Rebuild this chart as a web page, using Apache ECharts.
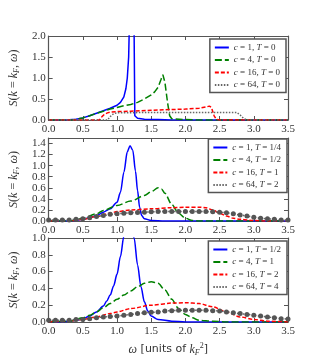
<!DOCTYPE html>
<html>
<head>
<meta charset="utf-8">
<script src="https://cdn.jsdelivr.net/npm/echarts@6/dist/echarts.min.js"></script>
<style>
html, body { margin: 0; padding: 0; background: #fff; }
#chart { width: 320px; height: 360px; }
</style>
</head>
<body>
<div id="chart"></div>
<script>
// x ticks
var xTicks = [0, 0.5, 1.0, 1.5, 2.0, 2.5, 3.0, 3.5];

// panel 1, T = 0
var w_c1_T0 = [0, 0.2, 0.3, 0.4, 0.5, 0.6, 0.7, 0.8, 0.9, 1.0, 1.05, 1.1, 1.13, 1.15, 1.17, 1.19, 1.245, 1.26, 1.27, 1.3, 1.4, 1.6, 1.8, 3.5];
var s_c1_T0 = [0, 0, 0.005, 0.02, 0.05, 0.1, 0.16, 0.22, 0.28, 0.35, 0.42, 0.55, 0.75, 1.0, 1.5, 3, 3, 0.1, 0.06, 0.04, 0.02, 0.01, 0, 0];
var w_c4_T0 = [0, 0.35, 0.5, 0.6, 0.7, 0.8, 0.9, 1.0, 1.1, 1.2, 1.3, 1.4, 1.5, 1.55, 1.6, 1.64, 1.67, 1.7, 1.74, 1.77, 1.8, 2.0, 2.2, 3.5];
var s_c4_T0 = [0, 0, 0.05, 0.1, 0.16, 0.21, 0.26, 0.3, 0.34, 0.37, 0.42, 0.5, 0.6, 0.67, 0.78, 0.95, 1.08, 0.9, 0.4, 0.1, 0.03, 0.01, 0, 0];
var w_c16_T0 = [0, 0.74, 0.78, 0.82, 0.86, 0.9, 1.0, 1.2, 1.5, 1.8, 2.0, 2.2, 2.3, 2.35, 2.38, 2.42, 2.45, 2.5, 3.5];
var s_c16_T0 = [0, 0, 0.08, 0.14, 0.17, 0.19, 0.2, 0.21, 0.23, 0.25, 0.26, 0.28, 0.31, 0.33, 0.3, 0.1, 0.02, 0, 0];
var w_c64_T0 = [0, 0.86, 0.9, 0.95, 1.0, 1.5, 2.0, 2.5, 2.75, 2.8, 2.85, 2.9, 3.5];
var s_c64_T0 = [0, 0, 0.08, 0.15, 0.17, 0.18, 0.18, 0.18, 0.18, 0.12, 0.04, 0, 0];

// panel 2
var w_c1_T14 = [0, 0.3, 0.4, 0.5, 0.6, 0.7, 0.8, 0.9, 1.0, 1.05, 1.1, 1.15, 1.19, 1.23, 1.27, 1.3, 1.33, 1.36, 1.4, 1.5, 1.7, 3.5];
var s_c1_T14 = [0, 0, 0.01, 0.03, 0.06, 0.1, 0.16, 0.22, 0.34, 0.52, 0.88, 1.25, 1.36, 1.28, 0.9, 0.55, 0.25, 0.1, 0.04, 0.01, 0, 0];
var w_c4_T12 = [0, 0.3, 0.5, 0.7, 0.8, 1.0, 1.2, 1.4, 1.5, 1.6, 1.65, 1.7, 1.8, 1.9, 2.0, 2.1, 2.2, 3.5];
var s_c4_T12 = [0, 0, 0.05, 0.13, 0.19, 0.28, 0.36, 0.46, 0.53, 0.6, 0.58, 0.5, 0.3, 0.14, 0.05, 0.01, 0, 0];
var w_c16_T1 = [0, 0.3, 0.5, 0.7, 0.9, 1.0, 1.2, 1.5, 1.8, 2.0, 2.2, 2.3, 2.4, 2.5, 2.6, 2.7, 2.8, 3.0, 3.2, 3.5];
var s_c16_T1 = [0, 0, 0.03, 0.08, 0.14, 0.17, 0.2, 0.22, 0.24, 0.25, 0.25, 0.24, 0.2, 0.14, 0.09, 0.05, 0.03, 0.01, 0, 0];

// grey curves are sampled every 0.1
var w_grid = [0, 0.1, 0.2, 0.3, 0.4, 0.5, 0.6, 0.7, 0.8, 0.9, 1.0, 1.1, 1.2, 1.3, 1.4, 1.5, 1.6, 1.7, 1.8, 1.9, 2.0, 2.1, 2.2, 2.3, 2.4, 2.5, 2.6, 2.7, 2.8, 2.9, 3.0, 3.1, 3.2, 3.3, 3.4, 3.5];
var s_c64_T2 = [0.02, 0.02, 0.02, 0.02, 0.03, 0.04, 0.06, 0.08, 0.1, 0.12, 0.13, 0.14, 0.15, 0.155, 0.16, 0.165, 0.17, 0.17, 0.17, 0.17, 0.17, 0.17, 0.17, 0.17, 0.165, 0.16, 0.15, 0.13, 0.11, 0.09, 0.07, 0.05, 0.04, 0.03, 0.02, 0.02];

// panel 3
var w_c1_T12 = [0, 0.2, 0.3, 0.4, 0.5, 0.6, 0.7, 0.8, 0.85, 0.9, 0.95, 1.0, 1.05, 1.1, 1.15, 1.2, 1.25, 1.3, 1.35, 1.4, 1.45, 1.5, 1.6, 1.8, 2.0, 3.5];
var s_c1_T12 = [0, 0, 0.01, 0.02, 0.04, 0.07, 0.12, 0.19, 0.25, 0.32, 0.43, 0.57, 0.78, 1.02, 1.2, 1.2, 1.0, 0.68, 0.42, 0.24, 0.13, 0.07, 0.03, 0.01, 0, 0];
var w_c4_T1 = [0, 0.3, 0.5, 0.6, 0.7, 0.8, 0.9, 1.0, 1.1, 1.2, 1.3, 1.4, 1.5, 1.6, 1.7, 1.8, 1.9, 2.0, 2.1, 2.2, 2.4, 2.6, 3.5];
var s_c4_T1 = [0, 0.01, 0.05, 0.08, 0.12, 0.17, 0.22, 0.27, 0.32, 0.37, 0.42, 0.46, 0.48, 0.46, 0.38, 0.27, 0.16, 0.09, 0.05, 0.02, 0.01, 0, 0];
var w_c16_T2 = [0, 0.3, 0.5, 0.7, 0.9, 1.0, 1.2, 1.5, 1.8, 2.0, 2.2, 2.4, 2.6, 2.8, 3.0, 3.2, 3.5];
var s_c16_T2 = [0, 0.01, 0.03, 0.06, 0.1, 0.12, 0.16, 0.2, 0.225, 0.23, 0.22, 0.18, 0.12, 0.06, 0.03, 0.01, 0];
var s_c64_T4 = [0.02, 0.02, 0.02, 0.02, 0.03, 0.03, 0.04, 0.05, 0.06, 0.065, 0.07, 0.08, 0.09, 0.1, 0.11, 0.115, 0.12, 0.13, 0.135, 0.14, 0.14, 0.14, 0.14, 0.14, 0.135, 0.13, 0.12, 0.11, 0.1, 0.09, 0.08, 0.07, 0.06, 0.05, 0.04, 0.035];

// legend labels [c, T]
var labels1 = [['1', '0'], ['4', '0'], ['16', '0'], ['64', '0']];
var labels2 = [['1', '1/4'], ['4', '1/2'], ['16', '1'], ['64', '2']];
var labels3 = [['1', '1/2'], ['4', '1'], ['16', '2'], ['64', '4']];

var yMax = [2.0, 1.5, 1.0];
var yInterval = [0.5, 0.2, 0.2];

function pairs(w, s) {
  var out = [];
  for (var i = 0; i < w.length; i++) out.push([w[i], s[i]]);
  return out;
}
function nm(l) { return 'c = ' + l[0] + ', T = ' + l[1]; }

var frameColor = '#555';
var tickFont = { fontFamily: 'Liberation Serif', fontSize: 11, color: '#333' };
var mathRich = {
  i: { fontFamily: 'Liberation Serif', fontStyle: 'italic', fontSize: 12, color: '#333' },
  r: { fontFamily: 'Liberation Serif', fontSize: 12, color: '#333' },
  s: { fontFamily: 'DejaVu Sans', fontSize: 11, color: '#333' },
  sub: { fontFamily: 'Liberation Serif', fontStyle: 'italic', fontSize: 8, color: '#333', padding: [6, 0, 0, 0] },
  sup: { fontFamily: 'Liberation Serif', fontSize: 8, color: '#333', padding: [0, 0, 7, 0] }
};
var legRich = {
  i: { fontFamily: 'Liberation Serif', fontStyle: 'italic', fontSize: 9, color: '#333' },
  r: { fontFamily: 'Liberation Serif', fontSize: 9, color: '#333' }
};

var tops = [36, 138, 238];
var heights = [84, 83, 84];
var grids = [], xAxes = [], yAxes = [], legends = [];
for (var g = 0; g < 3; g++) {
  grids.push({ left: 40, top: tops[g], width: 248, height: heights[g], show: false });
}
for (var g = 0; g < 3; g++) {
  xAxes.push({
    type: 'value', gridIndex: g, min: 0, max: 3.5, interval: 0.5, position: 'bottom',
    axisLine: { show: true, onZero: false, lineStyle: { color: frameColor, width: 1.2 } },
    axisTick: { show: true, inside: true, length: 4, lineStyle: { color: frameColor } },
    splitLine: { show: false },
    axisLabel: Object.assign({ margin: 4, formatter: function (v) { return v.toFixed(1); } }, tickFont),
    name: g === 2 ? '{i|ω} [units of {i|k}{sub|F}{sup|2}]' : '',
    nameLocation: 'middle', nameGap: 20,
    nameTextStyle: { fontFamily: 'DejaVu Sans', fontSize: 11, color: '#333', rich: mathRich }
  });
}
for (var g = 0; g < 3; g++) {
  xAxes.push({
    type: 'value', gridIndex: g, min: 0, max: 3.5, interval: 0.5, position: 'top',
    axisLine: { show: true, onZero: false, lineStyle: { color: frameColor, width: 1.2 } },
    axisTick: { show: true, inside: true, length: 4, lineStyle: { color: frameColor } },
    splitLine: { show: false }, axisLabel: { show: false }
  });
}
for (var g = 0; g < 3; g++) {
  yAxes.push({
    type: 'value', gridIndex: g, min: 0, max: yMax[g], interval: yInterval[g], position: 'left',
    axisLine: { show: true, onZero: false, lineStyle: { color: frameColor, width: 1.2 } },
    axisTick: { show: true, inside: true, length: 4, lineStyle: { color: frameColor } },
    splitLine: { show: false },
    axisLabel: Object.assign({ margin: 3, showMaxLabel: g !== 1, formatter: function (v) { return v.toFixed(1); } }, tickFont),
    name: '{i|S}{r|(}{i|k}{r| = }{i|k}{sub|F}{r|, }{i|ω}{r|)}',
    nameLocation: 'middle', nameRotate: 90, nameGap: 22,
    nameTextStyle: { rich: mathRich }
  });
}
for (var g = 0; g < 3; g++) {
  yAxes.push({
    type: 'value', gridIndex: g, min: 0, max: yMax[g], interval: yInterval[g], position: 'right',
    axisLine: { show: true, onZero: false, lineStyle: { color: frameColor, width: 1.2 } },
    axisTick: { show: true, inside: true, length: 4, lineStyle: { color: frameColor } },
    splitLine: { show: false }, axisLabel: { show: false }
  });
}

var colors = ['#0000ff', '#008000', '#ff0000', '#666666'];
var dashes = ['solid', [7, 3], [4, 2], [1.5, 1.5]];
var curves = [
  [[w_c1_T0, s_c1_T0], [w_c4_T0, s_c4_T0], [w_c16_T0, s_c16_T0], [w_c64_T0, s_c64_T0]],
  [[w_c1_T14, s_c1_T14], [w_c4_T12, s_c4_T12], [w_c16_T1, s_c16_T1], [w_grid, s_c64_T2]],
  [[w_c1_T12, s_c1_T12], [w_c4_T1, s_c4_T1], [w_c16_T2, s_c16_T2], [w_grid, s_c64_T4]]
];
var labelSets = [labels1, labels2, labels3];
var legendTops = [39, 139, 241];
var legendRights = [34, 33, 33];

var series = [];
for (var g = 0; g < 3; g++) {
  var names = [];
  for (var k = 0; k < 4; k++) {
    var name = nm(labelSets[g][k]);
    var marked = g > 0 && k === 3;
    // hide the marker in the legend, keep the line sample
    names.push({ name: name, itemStyle: { opacity: 0 } });
    series.push({
      name: name, type: 'line', xAxisIndex: g, yAxisIndex: g,
      data: pairs(curves[g][k][0], curves[g][k][1]),
      smooth: g === 0 ? false : 0.3, smoothMonotone: 'x',
      symbol: marked ? 'circle' : 'none', symbolSize: 5,
      showSymbol: marked,
      itemStyle: { color: marked ? '#555' : colors[k] },
      lineStyle: { color: colors[k], width: 1.5, type: dashes[k] },
      z: 2 + (marked ? 1 : 0)
    });
  }
  legends.push({
    orient: 'vertical', right: legendRights[g], top: legendTops[g],
    data: names, itemWidth: 14, itemHeight: 8, itemGap: 3.5,
    padding: [4, 6, 3, 4],
    borderColor: '#555', borderWidth: 1.5, backgroundColor: '#fff',
    textStyle: { fontFamily: 'Liberation Serif', fontSize: 9, color: '#333', rich: legRich },
    formatter: function (n) {
      var m = n.match(/^c = (\S+), T = (\S+)$/);
      return '{i|c}{r| = ' + m[1] + ', }{i|T}{r| = ' + m[2] + '}';
    }
  });
}

var option = {
  animation: false,
  backgroundColor: '#fff',
  grid: grids,
  xAxis: xAxes,
  yAxis: yAxes,
  legend: legends,
  series: series
};

var chart = echarts.init(document.getElementById('chart'), null, { renderer: 'canvas' });
chart.setOption(option);
</script>
</body>
</html>
